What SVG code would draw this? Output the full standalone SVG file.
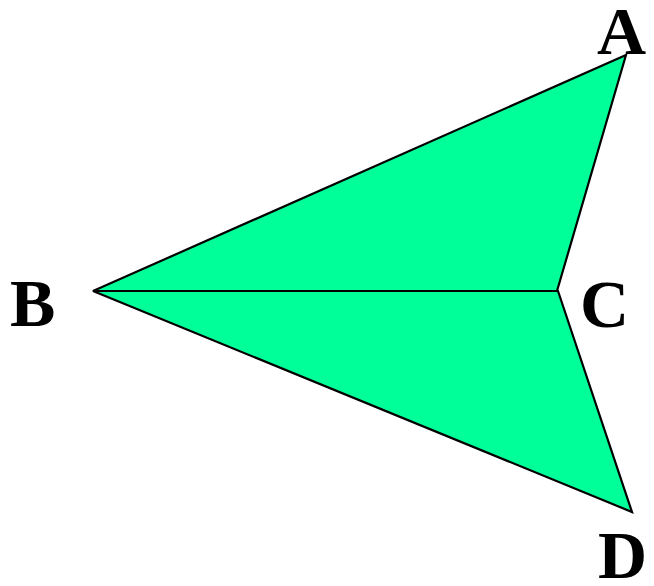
<svg xmlns="http://www.w3.org/2000/svg" width="654" height="586" viewBox="0 0 654 586">
<style>
.shape{fill:#00FF99;stroke:#000;stroke-width:2.2;stroke-linejoin:miter}
.lbl{font-family:"Liberation Serif","Times New Roman",serif;font-weight:bold;font-size:68px;fill:#000}
</style>
<rect width="654" height="586" fill="#fff"/>
<g id="kite">
<polygon class="shape" points="626,55 93,291 557,291"/>
<polygon class="shape" points="93,291 558,291 632,512"/>
</g>
<g id="connectors">
<line x1="93" y1="291" x2="558" y2="291" stroke="#000" stroke-width="2.2"/>
</g>
<g id="labels">
<text class="lbl" x="597" y="54">A</text>
<text class="lbl" x="10" y="326">B</text>
<text class="lbl" x="580" y="327">C</text>
<text class="lbl" x="598" y="578">D</text>
</g>
</svg>
